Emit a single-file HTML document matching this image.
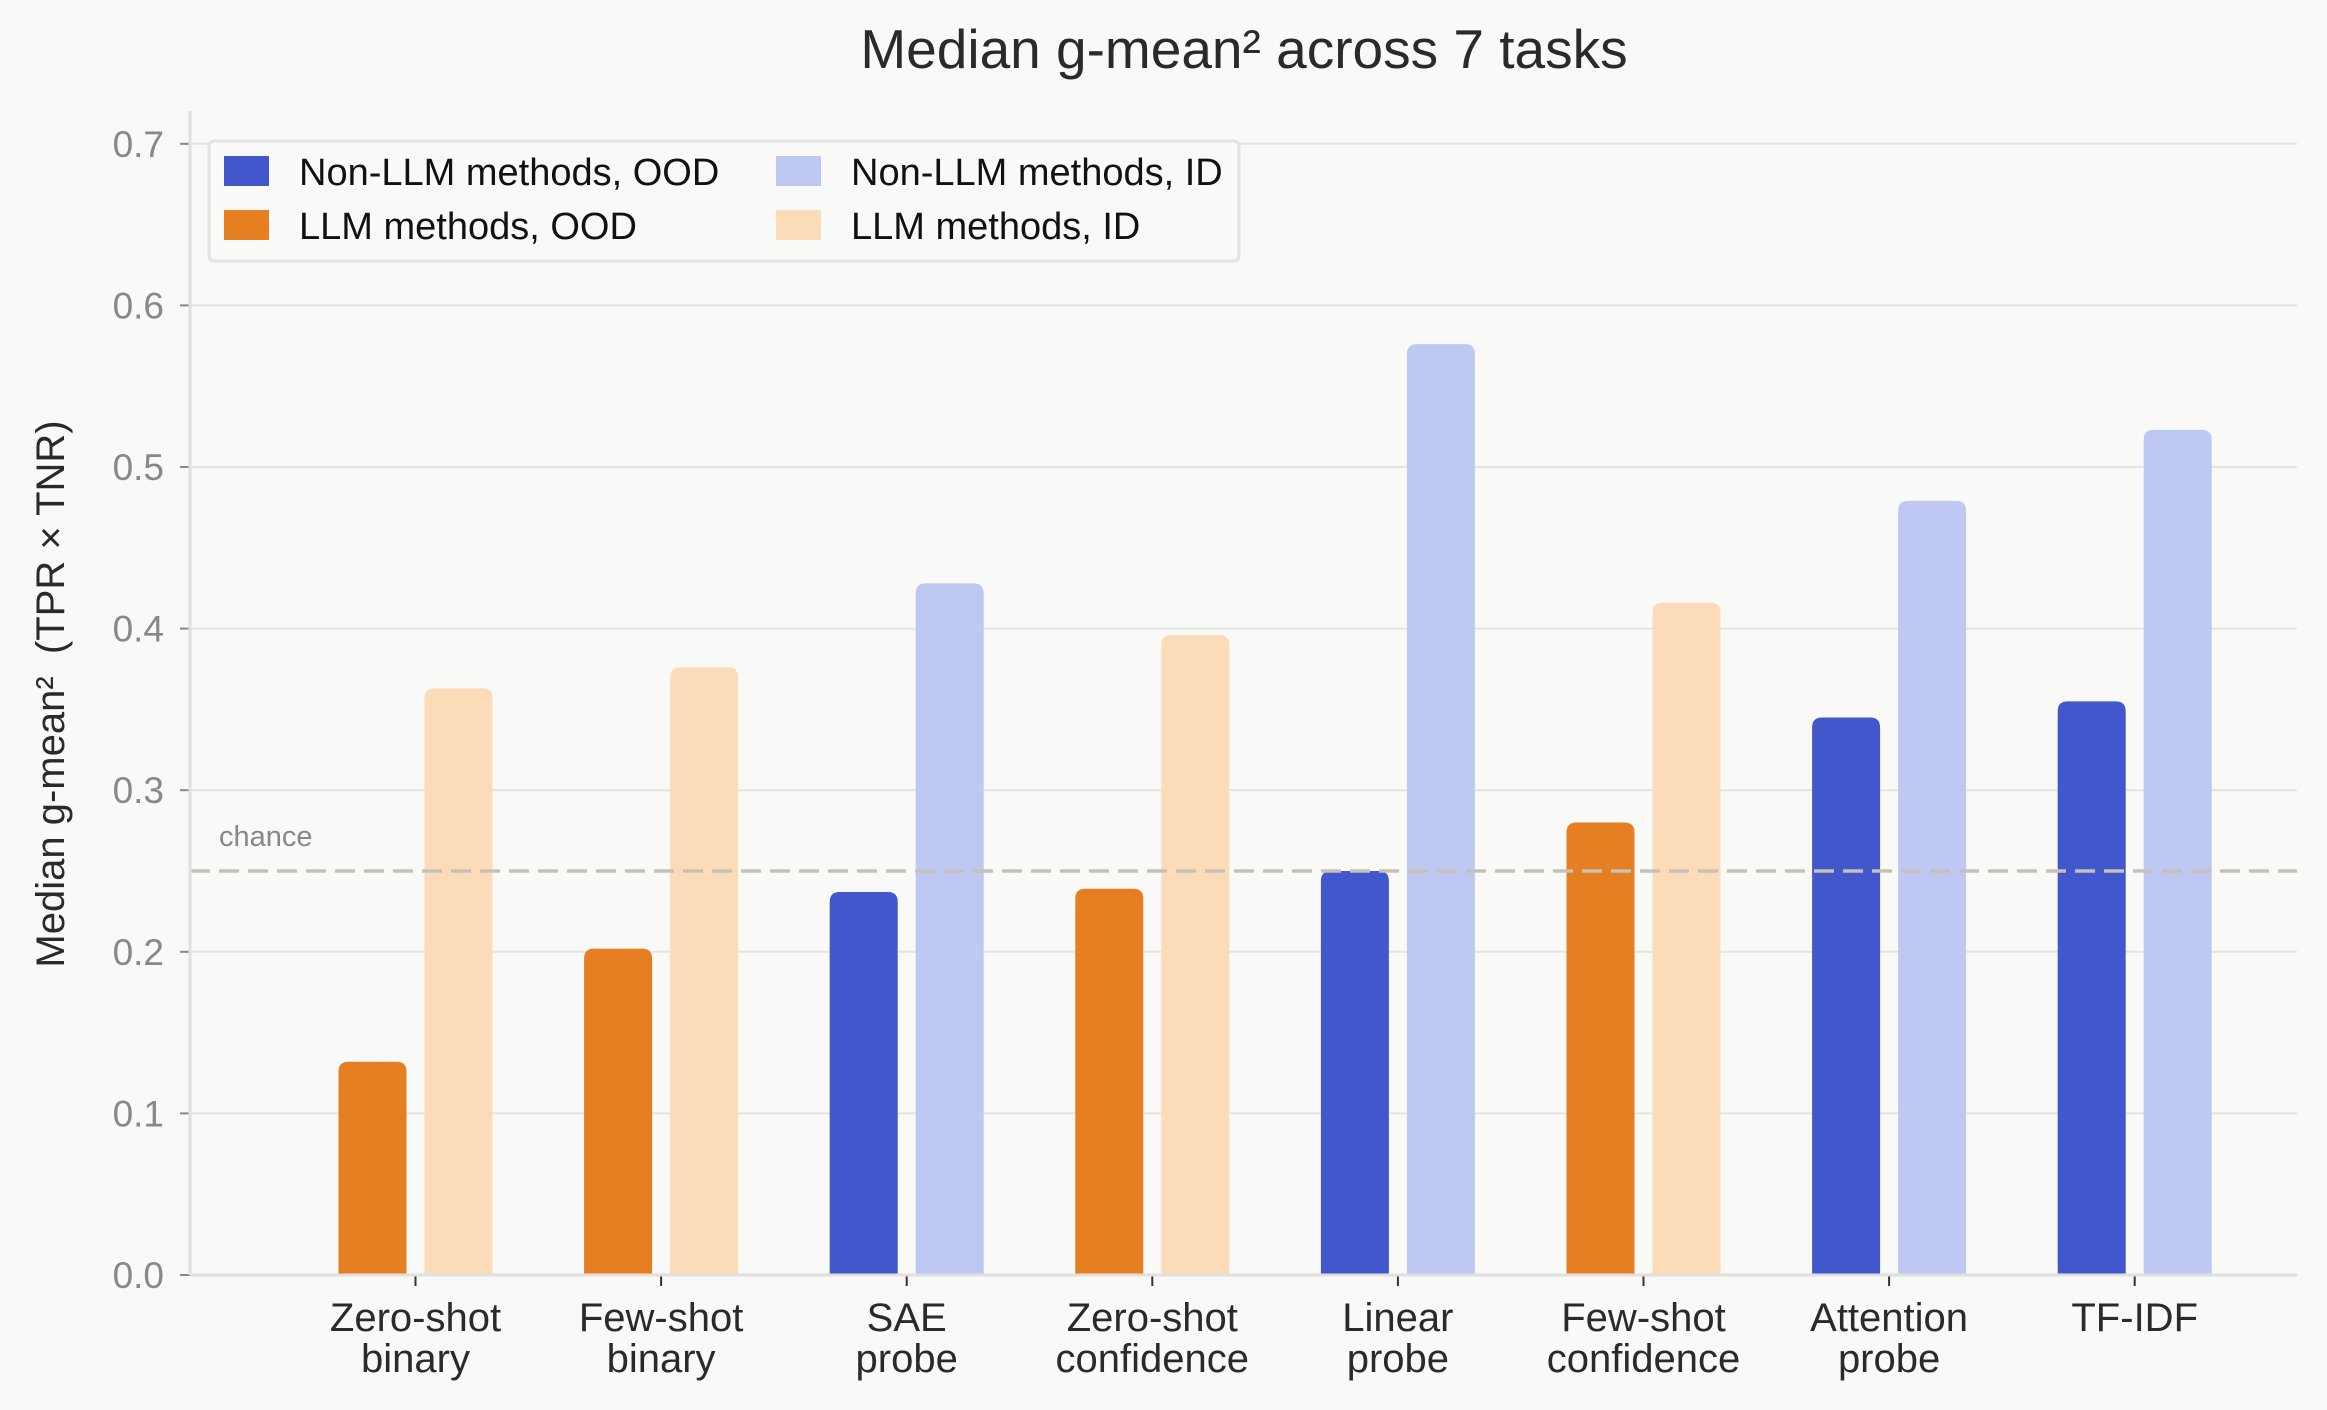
<!DOCTYPE html>
<html><head><meta charset="utf-8"><style>
html,body{margin:0;padding:0;background:#f9f9f7;}
svg{display:block;font-family:"Liberation Sans",sans-serif;}
</style></head><body>
<svg id="chart" width="2327" height="1410" viewBox="0 0 2327 1410" xmlns="http://www.w3.org/2000/svg">
<rect width="2327" height="1410" fill="#f9f9f7"/>
<text x="1244" y="68" text-anchor="middle" font-size="55" fill="#2a2a2a">Median g-mean² across 7 tasks</text>
<g id="grid"></g>
<g id="bars"></g>
<g id="axes"></g>
<text xml:space="preserve" transform="translate(64,694) rotate(-90)" text-anchor="middle" font-size="40" fill="#2a2a2a">Median g-mean²  (TPR × TNR)</text>
<g>
<rect x="209" y="141" width="1030" height="120" rx="5" fill="#f9f9f7" stroke="#e2e2de" stroke-width="3"/>
<rect x="224" y="156" width="45" height="30" fill="#4257cc"/>
<text x="299" y="185" font-size="38" fill="#111">Non-LLM methods, OOD</text>
<rect x="224" y="210" width="45" height="30" fill="#e67e22"/>
<text x="299" y="239" font-size="38" fill="#111">LLM methods, OOD</text>
<rect x="776" y="156" width="45" height="30" fill="#bfc8f3"/>
<text x="851" y="185" font-size="38" fill="#111">Non-LLM methods, ID</text>
<rect x="776" y="210" width="45" height="30" fill="#fcdbb9"/>
<text x="851" y="239" font-size="38" fill="#111">LLM methods, ID</text>
</g>
</svg>
<script>
const categories1 = ["Zero-shot","Few-shot","SAE","Zero-shot","Linear","Few-shot","Attention","TF-IDF"];
const categories2 = ["binary","binary","probe","confidence","probe","confidence","probe",""];
const isLLM = [true,true,false,true,false,true,false,false];
const oodValues = [0.132,0.202,0.237,0.239,0.250,0.280,0.345,0.355];
const idValues = [0.363,0.376,0.428,0.396,0.576,0.416,0.479,0.523];
const yTicks = [0,0.1,0.2,0.3,0.4,0.5,0.6,0.7];
const yTickLabels = ["0.0","0.1","0.2","0.3","0.4","0.5","0.6","0.7"];
const chanceValue = 0.25;

const NS="http://www.w3.org/2000/svg";
const X0=190,X1=2297,Y0=1275,PER=1616;
function y(v){return Y0-v*PER;}
function xc(i){return 415.5+i*245.6;}
function mk(tag,attrs,parent){const e=document.createElementNS(NS,tag);for(const k in attrs)e.setAttribute(k,attrs[k]);parent.appendChild(e);return e;}
const grid=document.getElementById('grid'),bars=document.getElementById('bars'),axes=document.getElementById('axes');
yTicks.forEach((t,i)=>{
  if(t>0){const g=mk('line',{x1:X0,x2:X1,y1:y(t),y2:y(t),stroke:'#e4e4e0','stroke-width':2},grid);
  
  }
  const tk=mk('line',{x1:X0-10,x2:X0,y1:y(t),y2:y(t),stroke:'#888','stroke-width':2},axes);
  
  
  const lb=mk('text',{x:X0-26,y:y(t)+13,'text-anchor':'end','font-size':37,fill:'#888'},axes);
  lb.textContent=yTickLabels[i];
  
  
});
function bar(cx,v,color,name){
  const w=68,r=10,x=cx-w/2,top=y(v);
  const d=`M${x},${Y0}L${x},${top+r}Q${x},${top} ${x+r},${top}L${x+w-r},${top}Q${x+w},${top} ${x+w},${top+r}L${x+w},${Y0}Z`;
  const p=mk('path',{d:d,fill:color},bars);
  
  
}
categories1.forEach((c,i)=>{
  const cx=xc(i);
  bar(cx-43,oodValues[i],isLLM[i]?'#e67e22':'#4257cc','bar-ood-'+i);
  bar(cx+43,idValues[i],isLLM[i]?'#fcdbb9':'#bfc8f3','bar-id-'+i);
  const tk=mk('line',{x1:cx,x2:cx,y1:Y0,y2:Y0+11,stroke:'#333','stroke-width':2},axes);
  
  
  const t1=mk('text',{x:cx,y:1331,'text-anchor':'middle','font-size':40,fill:'#2a2a2a'},axes);
  t1.textContent=c;
  
  
  if(categories2[i]){const t2=mk('text',{x:cx,y:1372,'text-anchor':'middle','font-size':40,fill:'#2a2a2a'},axes);
  t2.textContent=categories2[i];
  
  }
});
const ch=mk('line',{x1:X0,x2:X1,y1:y(chanceValue),y2:y(chanceValue),stroke:'#c6c1b6','stroke-width':3.5,'stroke-dasharray':'20,9'},axes);


const ct=mk('text',{x:219,y:y(chanceValue)-25,'font-size':29,fill:'#888'},axes);
ct.textContent='chance';


const ax=mk('line',{x1:X0,x2:X0,y1:111,y2:Y0,stroke:'#e0e0dc','stroke-width':3},axes);


const bx=mk('line',{x1:X0,x2:X1,y1:Y0,y2:Y0,stroke:'#e0e0dc','stroke-width':3},axes);


</script>
</body></html>
